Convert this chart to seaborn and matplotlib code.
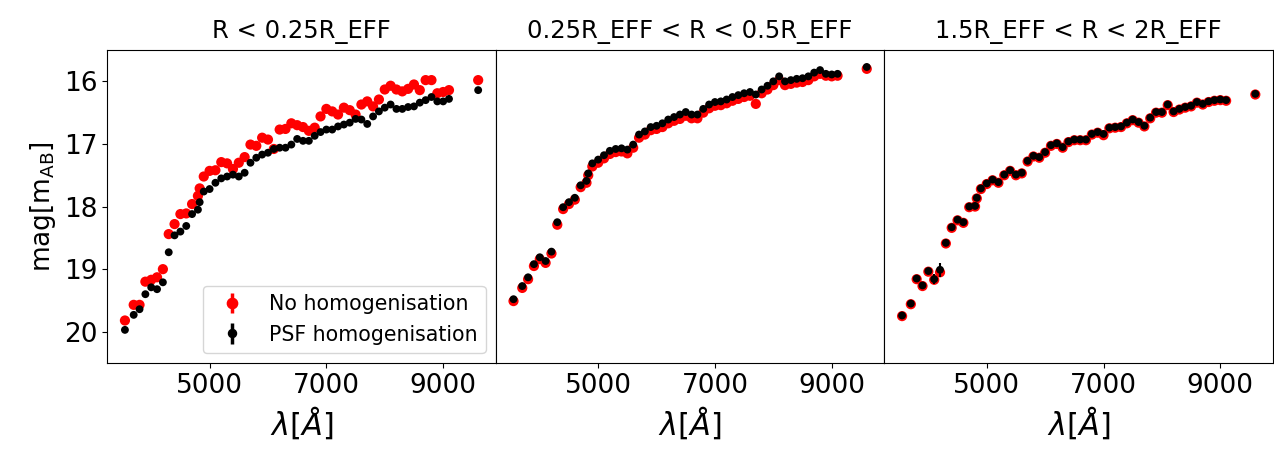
import matplotlib
matplotlib.use("Agg")
import matplotlib.pyplot as plt
import seaborn as sns
import pandas as pd

# ---------------- data ----------------
wavelength = [3550, 3700, 3800, 3900, 4000, 4100, 4200, 4300, 4400, 4500, 4600, 4700, 4800, 4830,
              4900, 5000, 5100, 5200, 5300, 5400, 5500, 5600, 5700, 5800, 5900, 6000, 6100, 6200,
              6300, 6400, 6500, 6600, 6700, 6800, 6900, 7000, 7100, 7200, 7300, 7400, 7500, 7600,
              7700, 7800, 7900, 8000, 8100, 8200, 8300, 8400, 8500, 8600, 8700, 8800, 8900, 9000,
              9100, 9600]

titles = ["R < 0.25R_EFF", "0.25R_EFF < R < 0.5R_EFF", "1.5R_EFF < R < 2R_EFF"]

# Panel 1: R < 0.25 R_eff
nohom_1 = [19.82, 19.57, 19.57, 19.20, 19.17, 19.13, 19.00, 18.44, 18.28, 18.12, 18.11, 17.96, 17.83, 17.71,
           17.52, 17.43, 17.42, 17.29, 17.31, 17.40, 17.30, 17.21, 17.01, 17.03, 16.90, 16.93, 17.08, 16.77,
           16.76, 16.67, 16.70, 16.73, 16.79, 16.74, 16.56, 16.44, 16.48, 16.53, 16.42, 16.46, 16.53, 16.37,
           16.32, 16.40, 16.29, 16.13, 16.07, 16.13, 16.16, 16.12, 16.05, 16.14, 15.98, 15.98, 16.19, 16.17,
           16.14, 15.98]
psf_1 = [19.97, 19.73, 19.64, 19.40, 19.29, 19.32, 19.21, 18.73, 18.46, 18.40, 18.31, 18.12, 18.05, 17.93,
         17.76, 17.72, 17.62, 17.55, 17.52, 17.49, 17.52, 17.46, 17.30, 17.22, 17.17, 17.14, 17.08, 17.06,
         17.06, 17.01, 16.92, 16.95, 16.95, 16.87, 16.81, 16.77, 16.77, 16.72, 16.69, 16.66, 16.60, 16.61,
         16.68, 16.56, 16.48, 16.42, 16.37, 16.44, 16.44, 16.41, 16.40, 16.34, 16.30, 16.25, 16.32, 16.32,
         16.28, 16.14]

# Panel 2: 0.25 R_eff < R < 0.5 R_eff
nohom_2 = [19.51, 19.30, 19.16, 18.95, 18.84, 18.90, 18.75, 18.29, 18.04, 17.96, 17.89, 17.69, 17.62, 17.50,
           17.36, 17.30, 17.23, 17.16, 17.13, 17.12, 17.15, 17.06, 16.90, 16.85, 16.78, 16.76, 16.73, 16.67,
           16.63, 16.60, 16.55, 16.59, 16.59, 16.50, 16.43, 16.39, 16.38, 16.35, 16.31, 16.28, 16.25, 16.23,
           16.36, 16.19, 16.13, 16.06, 15.98, 16.06, 16.04, 16.02, 16.01, 15.98, 15.92, 15.88, 15.91, 15.92,
           15.91, 15.80]
psf_2 = [19.48, 19.27, 19.13, 18.92, 18.81, 18.87, 18.72, 18.25, 18.01, 17.93, 17.86, 17.66, 17.59, 17.47,
         17.31, 17.25, 17.18, 17.11, 17.08, 17.07, 17.09, 17.01, 16.85, 16.80, 16.73, 16.71, 16.67, 16.61,
         16.57, 16.53, 16.49, 16.53, 16.53, 16.44, 16.37, 16.33, 16.32, 16.29, 16.25, 16.22, 16.19, 16.17,
         16.21, 16.13, 16.07, 16.00, 15.92, 16.00, 15.98, 15.96, 15.95, 15.92, 15.86, 15.82, 15.88, 15.89,
         15.88, 15.77]

# Panel 3: 1.5 R_eff < R < 2 R_eff
nohom_3 = [19.75, 19.56, 19.16, 19.27, 19.04, 19.17, 19.05, 18.59, 18.34, 18.22, 18.26, 18.01, 18.00, 17.87,
           17.72, 17.64, 17.58, 17.62, 17.50, 17.43, 17.50, 17.47, 17.28, 17.20, 17.22, 17.14, 17.03, 17.00,
           17.06, 16.97, 16.94, 16.94, 16.94, 16.85, 16.82, 16.86, 16.75, 16.74, 16.73, 16.67, 16.62, 16.66,
           16.72, 16.59, 16.50, 16.50, 16.38, 16.49, 16.45, 16.42, 16.40, 16.34, 16.37, 16.33, 16.31, 16.30,
           16.31, 16.21]
psf_3 = [19.74, 19.55, 19.15, 19.26, 19.03, 19.16, 19.01, 18.58, 18.33, 18.21, 18.25, 18.00, 17.99, 17.86,
         17.71, 17.63, 17.57, 17.61, 17.49, 17.42, 17.49, 17.46, 17.27, 17.19, 17.21, 17.13, 17.02, 16.99,
         17.05, 16.96, 16.93, 16.93, 16.93, 16.84, 16.81, 16.84, 16.74, 16.73, 16.72, 16.66, 16.61, 16.65,
         16.71, 16.58, 16.49, 16.49, 16.37, 16.48, 16.44, 16.41, 16.39, 16.33, 16.36, 16.32, 16.30, 16.29,
         16.30, 16.20]

# typical photometric uncertainties (mostly hidden behind the markers)
nohom_err = 0.02
psf_err_default = 0.02
psf_err_3 = [0.02, 0.02, 0.02, 0.02, 0.02, 0.08, 0.11, 0.02, 0.02, 0.02, 0.02, 0.02, 0.02, 0.02,
             0.02, 0.02, 0.02, 0.02, 0.02, 0.02, 0.02, 0.02, 0.02, 0.02, 0.02, 0.02, 0.02, 0.02,
             0.02, 0.02, 0.02, 0.02, 0.02, 0.02, 0.02, 0.02, 0.02, 0.02, 0.02, 0.02, 0.02, 0.02,
             0.02, 0.02, 0.02, 0.02, 0.02, 0.02, 0.02, 0.02, 0.02, 0.02, 0.02, 0.02, 0.02, 0.02,
             0.02, 0.02]

panels = [(nohom_1, psf_1, psf_err_default),
          (nohom_2, psf_2, psf_err_default),
          (nohom_3, psf_3, psf_err_3)]

# ---------------- plot ----------------
fig, axes = plt.subplots(1, 3, figsize=(12.74, 4.51), dpi=100, sharex=True, sharey=True)
fig.subplots_adjust(left=0.0842, right=0.9992, top=0.889, bottom=0.195, wspace=0)

for i, (ax, (nh, psf, perr), title) in enumerate(zip(axes, panels, titles)):
    df_nh = pd.DataFrame({"wl": wavelength, "mag": nh})
    df_psf = pd.DataFrame({"wl": wavelength, "mag": psf})
    ax.errorbar(wavelength, nh, yerr=nohom_err, fmt="none", ecolor="red", elinewidth=1.5, zorder=2)
    sns.scatterplot(data=df_nh, x="wl", y="mag", color="red", s=54, edgecolor="none",
                    linewidth=0, ax=ax, zorder=3, legend=False)
    ax.errorbar(wavelength, psf, yerr=perr, fmt="none", ecolor="black", elinewidth=1.5, zorder=4)
    sns.scatterplot(data=df_psf, x="wl", y="mag", color="black", s=32, edgecolor="none",
                    linewidth=0, ax=ax, zorder=5, legend=False)
    ax.set_title(title, fontsize=17.5, pad=9)
    ax.set_xlabel(r"$\lambda [\AA]$", fontsize=22)
    ax.set_ylabel("")
    ax.set_xticks([5000, 7000, 9000])
    ax.tick_params(axis="both", labelsize=19)
    if i > 0:
        ax.tick_params(axis="y", left=False, labelleft=False)

axes[0].set_ylim(20.5, 15.5)
axes[0].set_yticks([16, 17, 18, 19, 20])
axes[0].set_ylabel(r"mag[m$_{\rm AB}$]", fontsize=19)

h1 = axes[0].errorbar([], [], yerr=[], fmt="o", color="red", ms=7.4, elinewidth=2.5)
h2 = axes[0].errorbar([], [], yerr=[], fmt="o", color="black", ms=5.8, elinewidth=2.5)
axes[0].legend([h1, h2], ["No homogenisation", "PSF homogenisation"],
               loc="lower right", fontsize=14.8)

fig.savefig("out.png", dpi=100)
